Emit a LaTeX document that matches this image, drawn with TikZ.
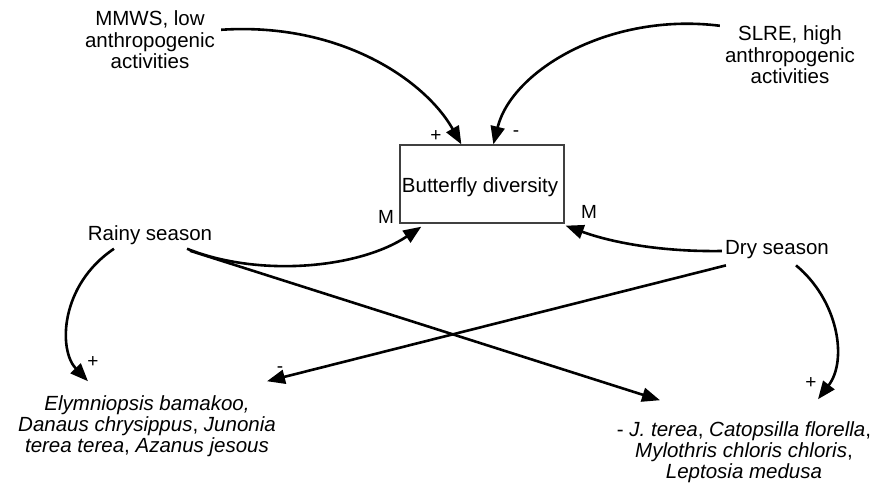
\documentclass[tikz,border=0pt]{standalone}
\usepackage{fontspec}
\setmainfont{Liberation Sans}
\usetikzlibrary{arrows.meta,calc}
\tikzset{
  lbl/.style={font=\fontsize{20.5}{21.5}\selectfont, align=center, inner sep=0pt},
  spc/.style={font=\fontsize{20.5}{21}\selectfont\itshape, align=center, inner sep=0pt},
  sgn/.style={font=\fontsize{19}{19}\selectfont, inner sep=0pt},
  mk/.style={font=\fontsize{19}{19}\selectfont, inner sep=0pt},
  conn/.style={line width=2.6pt, -{Triangle[length=18pt,width=14pt]}},
  boxst/.style={draw=black!75, line width=1.3pt, minimum width=164pt, minimum height=78pt, inner sep=0pt}
}
\begin{document}
\begin{tikzpicture}[x=1pt,y=-1pt]
\useasboundingbox (0,0) rectangle (892,484);
\node[lbl] (mmws) at (150,40) {MMWS, low\\anthropogenic\\activities};
\node[lbl] (slre) at (790,55) {SLRE, high\\anthropogenic\\activities};
\node[boxst] (box) at (482,184) {};
\node[lbl] (bd) at (480,187) {Butterfly diversity};
\node[lbl] (rainy) at (150,235) {Rainy season};
\node[lbl] (dry) at (777,250) {Dry season};
\node[spc] (left) at (147,426) {Elymniopsis bamakoo,\\Danaus chrysippus\upshape, \itshape Junonia\\terea terea\upshape, \itshape Azanus jesous};
\node[spc] (right) at (744,452) {\upshape - \itshape J. terea\upshape, \itshape Catopsilla florella\upshape,\\Mylothris chloris chloris\upshape,\\Leptosia medusa};

\coordinate (mmwsOut) at ($(mmws.north east)+(6,19)$);
\coordinate (slreOut) at ($(slre.north west)+(-5,0)$);
\coordinate (boxTopA) at ($(box.north west)+(62,0)$);
\coordinate (boxTopB) at ($(box.north west)+(94,0)$);
\coordinate (boxBL) at ($(box.south west)+(22,3)$);
\coordinate (boxBR) at ($(box.south east)+(1,2)$);

\draw[conn] (mmwsOut) .. controls (340,22) and (425,80) .. (boxTopA);
\draw[conn] (slreOut) .. controls (610,12) and (512,70) .. (boxTopB);
\draw[conn] ($(rainy.south)+(37,4)$) .. controls (260,278) and (360,268) .. (boxBL);
\draw[conn] ($(rainy.south)+(-36,4)$) .. controls (60,285) and (58,350) .. ($(left.north)+(-59,-14)$);
\draw[conn] ($(rainy.south)+(40,6)$) -- ($(right.north)+(-84,-21)$);
\draw[conn] ($(dry.west)+(-3,1)$) .. controls (660,252) and (610,242) .. (boxBR);
\draw[conn] ($(dry.south west)+(1,6)$) -- ($(left.north)+(120,-14)$);
\draw[conn] ($(dry.south)+(19,6)$) .. controls (838,300) and (848,360) .. ($(right.north)+(74,-22)$);

\node[sgn] at (436,136) {+};
\node[sgn] at (516,134) {-};
\node[mk] at (386,217) {M};
\node[mk] at (589,212) {M};
\node[sgn] at (93,362) {+};
\node[sgn] at (280,370) {-};
\node[sgn] at (811,383) {+};
\end{tikzpicture}
\end{document}
